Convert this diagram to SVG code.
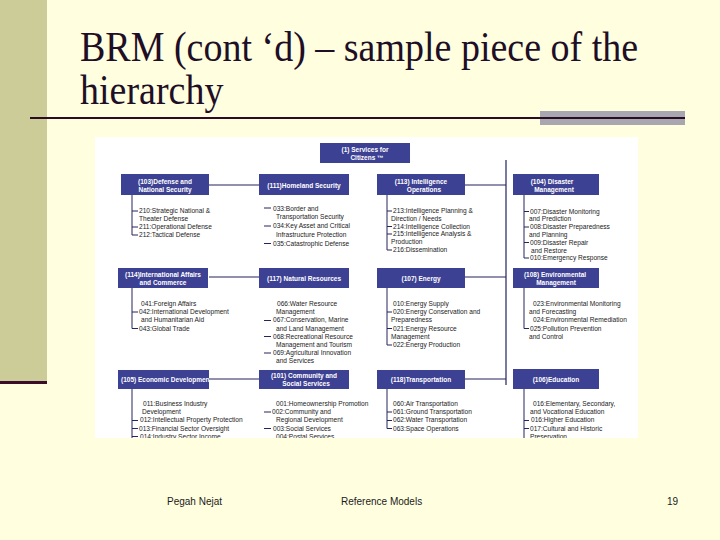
<svg xmlns="http://www.w3.org/2000/svg" width="720" height="540" viewBox="0 0 720 540">
<defs>
<clipPath id="pic"><rect x="95" y="137" width="543" height="301"/></clipPath>
<clipPath id="b105"><rect x="95" y="365" width="114" height="30"/></clipPath>
<style>
.box{fill:#3D4193}
.bt{font-family:"Liberation Sans",Arial,sans-serif;font-size:6.5px;font-weight:bold;fill:#ffffff;text-anchor:middle}
.it{font-family:"Liberation Sans",Arial,sans-serif;font-size:6.6px;fill:#222222}
.ln{stroke:#24245E;stroke-width:1.2;fill:none}
.tk{stroke:#24245E;stroke-width:1;fill:none}
.title{font-family:"Liberation Serif","Times New Roman",serif;font-size:38px;fill:#1E0E26}
.foot{font-family:"Liberation Sans",Arial,sans-serif;font-size:10px;fill:#1a1a1a}
</style>
</defs>
<rect x="0" y="0" width="720" height="540" fill="#FFFFE0"/>
<rect x="0" y="0" width="47" height="382" fill="#CCCC99"/>
<rect x="0" y="381" width="47" height="3" fill="#3A0E2A"/>
<g id="title">
<g transform="scale(1,1.1)">
<text class="title" x="80" y="55.5">BRM (cont ‘d) – sample piece of the</text>
<text class="title" x="80" y="94.5">hierarchy</text>
</g>
<rect x="540" y="111" width="145" height="14" fill="#A8A6AE"/>
<line x1="30" y1="118" x2="685" y2="118" stroke="#2A0D24" stroke-width="2"/>
</g>
<rect x="95" y="137" width="543" height="301" fill="#FFFFFF"/>
<g clip-path="url(#pic)">
<g id="connectors">
<path class="ln" d="M209 185H259M465 185H506M209 277H259M465 277H506M209 379H259M465 379H506M506 160V385"/>
<path class="tk" d="M132 195V235H138M132 211H138M132 227H138"/>
<path class="tk" d="M264 208H271M264 226H271M264 243.5H271"/>
<path class="tk" d="M387 195V250H392M387 211H392M387 226.5H392M387 234H392"/>
<path class="tk" d="M524 195V258H529M524 211.5H529M524 227H529M524 242.5H529"/>
<path class="tk" d="M132 288V328.5H138M132 312H138"/>
<path class="tk" d="M264 320.5H271M264 336.5H271M264 353H271"/>
<path class="tk" d="M387 288V345H392M387 312H392M387 328.5H392"/>
<path class="tk" d="M524 288V328.5H529"/>
<path class="tk" d="M132 389V440M132 420.5H138M132 428.5H138M132 436.5H138"/>
<path class="tk" d="M264 412H271M264 428.5H271"/>
<path class="tk" d="M387 389V428.5H392M387 412H392M387 420.5H392"/>
<path class="tk" d="M524 389V440M524 420.5H529M524 428.5H529"/>
</g>
<g id="n1">
<rect class="box" x="320" y="143" width="90" height="20"/>
<text class="bt" x="365" y="152">(1) Services for</text>
<text class="bt" x="367" y="160">Citizens ™</text>
</g>
<g id="n103">
<rect class="box" x="121" y="174" width="88" height="21"/>
<text class="bt" x="165" y="183.5">(103)Defense and</text>
<text class="bt" x="165" y="191.5">National Security</text>
<text class="it" x="139" y="213">210:Strategic National &amp;</text>
<text class="it" x="139" y="221">Theater Defense</text>
<text class="it" x="139" y="229">211:Operational Defense</text>
<text class="it" x="139" y="237">212:Tactical Defense</text>
</g>
<g id="n111">
<rect class="box" x="259" y="174" width="90" height="21"/>
<text class="bt" x="304" y="187.5">(111)Homeland Security</text>
<text class="it" x="273" y="210.5">033:Border and</text>
<text class="it" x="276" y="219.3">Transportation Security</text>
<text class="it" x="273" y="228.1">034:Key Asset and Critical</text>
<text class="it" x="276" y="236.9">Infrastructure Protection</text>
<text class="it" x="273" y="245.7">035:Catastrophic Defense</text>
</g>
<g id="n113">
<rect class="box" x="377" y="174" width="88" height="21"/>
<text class="bt" x="421" y="183.5">(113) Intelligence</text>
<text class="bt" x="424" y="191.5">Operations</text>
<text class="it" x="393" y="213">213:Intelligence Planning &amp;</text>
<text class="it" x="391" y="220.8">Direction / Needs</text>
<text class="it" x="393" y="228.6">214:Intelligence Collection</text>
<text class="it" x="393" y="236.4">215:Intelligence Analysis &amp;</text>
<text class="it" x="391" y="244.2">Production</text>
<text class="it" x="393" y="252">216:Dissemination</text>
</g>
<g id="n104">
<rect class="box" x="513" y="174" width="86" height="21"/>
<text class="bt" x="552" y="183.5">(104) Disaster</text>
<text class="bt" x="554" y="191.5">Management</text>
<text class="it" x="530" y="213.5">007:Disaster Monitoring</text>
<text class="it" x="529" y="221.3">and Prediction</text>
<text class="it" x="530" y="229.1">008:Disaster Preparedness</text>
<text class="it" x="529" y="236.9">and Planning</text>
<text class="it" x="530" y="244.7">009:Disaster Repair</text>
<text class="it" x="531" y="252.5">and Restore</text>
<text class="it" x="530" y="260.3">010:Emergency Response</text>
</g>
<g id="n114">
<rect class="box" x="118" y="268" width="90" height="20"/>
<text class="bt" x="163" y="276.5">(114)International Affairs</text>
<text class="bt" x="163" y="284.5">and Commerce</text>
<text class="it" x="141" y="306">041:Foreign Affairs</text>
<text class="it" x="139" y="314.2">042:International Development</text>
<text class="it" x="141" y="322.4">and Humanitarian Aid</text>
<text class="it" x="139" y="330.6">043:Global Trade</text>
</g>
<g id="n117">
<rect class="box" x="259" y="268" width="90" height="20"/>
<text class="bt" x="304" y="280.5">(117) Natural Resources</text>
<text class="it" x="277" y="306">066:Water Resource</text>
<text class="it" x="276" y="314.2">Management</text>
<text class="it" x="273" y="322.4">067:Conservation, Marine</text>
<text class="it" x="276" y="330.6">and Land Management</text>
<text class="it" x="273" y="338.8">068:Recreational Resource</text>
<text class="it" x="276" y="347">Management and Tourism</text>
<text class="it" x="273" y="355.2">069:Agricultural Innovation</text>
<text class="it" x="276" y="363.4">and Services</text>
</g>
<g id="n107">
<rect class="box" x="377" y="268" width="88" height="20"/>
<text class="bt" x="421" y="280.5">(107) Energy</text>
<text class="it" x="393" y="306">010:Energy Supply</text>
<text class="it" x="393" y="314.2">020:Energy Conservation and</text>
<text class="it" x="391" y="322.4">Preparedness</text>
<text class="it" x="393" y="330.6">021:Energy Resource</text>
<text class="it" x="391" y="338.8">Management</text>
<text class="it" x="393" y="347">022:Energy Production</text>
</g>
<g id="n108">
<rect class="box" x="513" y="268" width="86" height="20"/>
<text class="bt" x="555" y="276.5">(108) Environmental</text>
<text class="bt" x="556" y="284.5">Management</text>
<text class="it" x="533" y="306">023:Environmental Monitoring</text>
<text class="it" x="529" y="314.2">and Forecasting</text>
<text class="it" x="533" y="322.4">024:Environmental Remediation</text>
<text class="it" x="530" y="330.6">025:Pollution Prevention</text>
<text class="it" x="529" y="338.8">and Control</text>
</g>
<g id="n105">
<rect class="box" x="118" y="370" width="91" height="19"/>
<text class="bt" x="121" y="381.5" style="text-anchor:start" clip-path="url(#b105)">(105) Economic Development</text>
<text class="it" x="143" y="406">011:Business Industry</text>
<text class="it" x="142" y="414.2">Development</text>
<text class="it" x="140" y="422.4">012:Intellectual Property Protection</text>
<text class="it" x="139" y="430.6">013:Financial Sector Oversight</text>
<text class="it" x="140" y="438.8">014:Industry Sector Income</text>
</g>
<g id="n101">
<rect class="box" x="259" y="370" width="90" height="19"/>
<text class="bt" x="304" y="378">(101) Community and</text>
<text class="bt" x="306" y="386">Social Services</text>
<text class="it" x="276" y="406">001:Homeownership Promotion</text>
<text class="it" x="272" y="414.2">002:Community and</text>
<text class="it" x="276" y="422.4">Regional Development</text>
<text class="it" x="273" y="430.6">003:Social Services</text>
<text class="it" x="276" y="438.8">004:Postal Services</text>
</g>
<g id="n118">
<rect class="box" x="377" y="370" width="88" height="19"/>
<text class="bt" x="421" y="381.5">(118)Transportation</text>
<text class="it" x="393" y="406">060:Air Transportation</text>
<text class="it" x="393" y="414.2">061:Ground Transportation</text>
<text class="it" x="393" y="422.4">062:Water Transportation</text>
<text class="it" x="393" y="430.6">063:Space Operations</text>
</g>
<g id="n106">
<rect class="box" x="513" y="369" width="86" height="20"/>
<text class="bt" x="556" y="381.5">(106)Education</text>
<text class="it" x="533" y="406">016:Elementary, Secondary,</text>
<text class="it" x="530" y="414.2">and Vocational Education</text>
<text class="it" x="531" y="422.4">016:Higher Education</text>
<text class="it" x="530" y="430.6">017:Cultural and Historic</text>
<text class="it" x="530" y="438.8">Preservation</text>
</g>
</g>
<g id="footer">
<text class="foot" x="167" y="505">Pegah Nejat</text>
<text class="foot" x="341" y="505">Reference Models</text>
<text class="foot" x="667" y="505">19</text>
</g>
</svg>
